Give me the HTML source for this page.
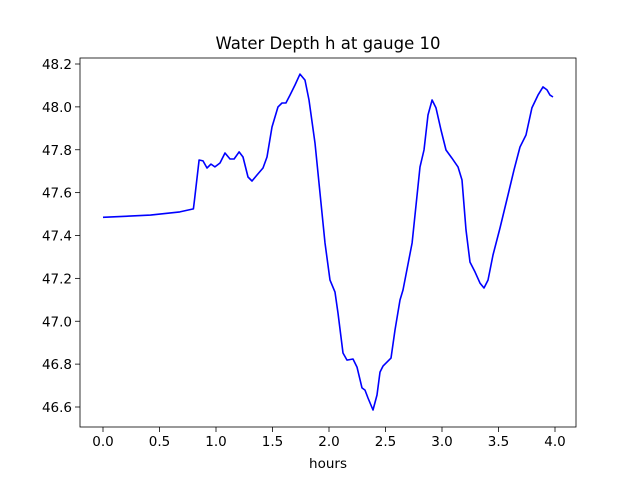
<!DOCTYPE html>
<html><head><meta charset="utf-8"><style>
body{margin:0;background:#fff;}
svg text{font-family:"DejaVu Sans","Liberation Sans",sans-serif;fill:#000;}
</style></head><body>
<svg id="chart" width="640" height="480" xmlns="http://www.w3.org/2000/svg">
<rect width="640" height="480" fill="#fff"/>
<text x="328" y="49" font-size="16.5" text-anchor="middle">Water Depth h at gauge 10</text>
<g id="axes"></g>
<text x="328" y="468" font-size="13.5" text-anchor="middle">hours</text>
</svg>
<script>
const hours=[0,0.42,0.68,0.80,0.81,0.85,0.885,0.92,0.956,0.99,1.035,1.08,1.124,1.16,1.204,1.239,1.283,1.319,1.363,1.416,1.451,1.496,1.549,1.584,1.619,1.655,1.699,1.743,1.788,1.823,1.876,1.92,1.965,2.009,2.053,2.08,2.124,2.159,2.212,2.248,2.292,2.319,2.345,2.389,2.425,2.451,2.478,2.549,2.584,2.628,2.655,2.735,2.805,2.841,2.876,2.912,2.947,2.991,3.035,3.088,3.142,3.177,3.212,3.248,3.292,3.336,3.372,3.407,3.451,3.513,3.584,3.637,3.69,3.743,3.796,3.85,3.894,3.929,3.956,3.982];
const depth=[47.485,47.495,47.51,47.524,47.566,47.752,47.748,47.715,47.733,47.72,47.738,47.785,47.757,47.757,47.79,47.766,47.673,47.654,47.682,47.715,47.766,47.906,48.0,48.018,48.018,48.055,48.102,48.153,48.125,48.032,47.831,47.598,47.365,47.192,47.136,47.038,46.852,46.819,46.824,46.786,46.689,46.679,46.642,46.586,46.656,46.763,46.791,46.828,46.959,47.099,47.146,47.365,47.72,47.799,47.962,48.032,47.995,47.892,47.799,47.761,47.72,47.659,47.426,47.276,47.23,47.178,47.155,47.192,47.309,47.435,47.589,47.706,47.813,47.869,47.995,48.055,48.093,48.079,48.055,48.046];
const xTicks=[0,0.5,1,1.5,2,2.5,3,3.5,4];
const xTickLabels=["0.0","0.5","1.0","1.5","2.0","2.5","3.0","3.5","4.0"];
const yTicks=[46.6,46.8,47.0,47.2,47.4,47.6,47.8,48.0,48.2];
const yTickLabels=["46.6","46.8","47.0","47.2","47.4","47.6","47.8","48.0","48.2"];

const L=80,T=58,R=576,B=427;
const xs=h=>103+h*113;
const ys=v=>64+(48.2-v)*214.375;
const NS="http://www.w3.org/2000/svg";
const g=document.getElementById('axes');
function mk(tag,attrs){const e=document.createElementNS(NS,tag);for(const k in attrs)e.setAttribute(k,attrs[k]);g.appendChild(e);return e;}

const line=mk('polyline',{points:hours.map((h,i)=>xs(h).toFixed(1)+','+ys(depth[i]).toFixed(1)).join(' '),fill:'none',stroke:'#0000ff','stroke-width':'1.6','stroke-linejoin':'round'});



xTicks.forEach((t,i)=>{
  const x=xs(t);
  const tk=mk('line',{x1:x,x2:x,y1:B,y2:B+5,stroke:'#000','stroke-width':'0.8'});
  
  
  const tx=mk('text',{x:x,y:B+19,'font-size':'13.5','text-anchor':'middle'});
  tx.textContent=xTickLabels[i];
  
  
});
yTicks.forEach((t,i)=>{
  const y=ys(t);
  const tk=mk('line',{x1:L-5,x2:L,y1:y,y2:y,stroke:'#000','stroke-width':'0.8'});
  
  
  const tx=mk('text',{x:L-8,y:y+5,'font-size':'13.5','text-anchor':'end'});
  tx.textContent=yTickLabels[i];
  
  
});
const frame=mk('rect',{x:L,y:T,width:R-L,height:B-T,fill:'none',stroke:'#000','stroke-width':'0.8'});


</script>
</body></html>
